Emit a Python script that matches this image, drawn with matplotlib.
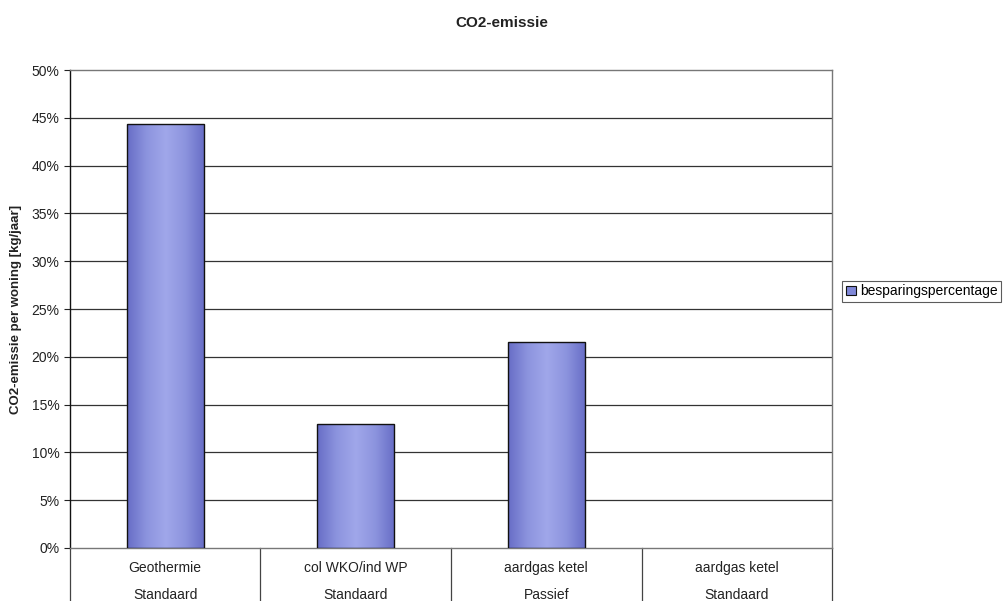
import numpy as np
import matplotlib
matplotlib.use("Agg")
import matplotlib.pyplot as plt
from matplotlib.colors import LinearSegmentedColormap
from matplotlib.ticker import FuncFormatter

# Data
systems = ["Geothermie", "col WKO/ind WP", "aardgas ketel", "aardgas ketel"]
variants = ["Standaard", "Standaard", "Passief", "Standaard"]
savings = [0.4435, 0.1297, 0.2155, 0.0]
series_name = "besparingspercentage"
y_ticks = [0.0, 0.05, 0.10, 0.15, 0.20, 0.25, 0.30, 0.35, 0.40, 0.45, 0.50]

plt.rcParams["font.family"] = ["Liberation Sans", "DejaVu Sans"]

fig = plt.figure(figsize=(10.04, 6.01), dpi=100)
ax = fig.add_axes([0.0697, 0.0882, 0.759, 0.7953])

x = np.arange(len(systems))
bar_w = 0.405
bars = ax.bar(x, savings, width=bar_w, color="none", linewidth=0, zorder=3)

# Shaded fill for each bar: darker at the sides, lighter in the middle
cmap = LinearSegmentedColormap.from_list(
    "barshade", ["#676dc6", "#8c94de", "#a0a7ea", "#8c94de", "#676dc6"])
grad = np.linspace(0, 1, 256).reshape(1, -1)
for b in bars:
    h = b.get_height()
    if h <= 0:
        continue
    x0 = b.get_x()
    im = ax.imshow(grad, cmap=cmap, aspect="auto", zorder=3.5,
                   extent=[x0, x0 + b.get_width(), 0, h], interpolation="bicubic")
    im.set_clip_path(b)
    ax.bar(b.get_x() + b.get_width() / 2, h, width=b.get_width(), fill=False,
           edgecolor="#111111", linewidth=1.0, zorder=4)

ax.set_xlim(-0.5, len(systems) - 0.5)
ax.set_ylim(0, 0.5)
ax.set_yticks(y_ticks)
ax.yaxis.set_major_formatter(FuncFormatter(lambda v, p: f"{v*100:.0f}%"))
ax.tick_params(axis="y", labelsize=10, length=4, width=0.8, color="#222222",
               labelcolor="#222222")
ax.set_xticks([])

# Horizontal gridlines
for t in y_ticks[1:-1]:
    ax.axhline(t, color="#333333", linewidth=0.9, zorder=1)

for side in ["top", "right", "bottom"]:
    ax.spines[side].set_color("#777777")
    ax.spines[side].set_linestyle((0, (1, 1)))
    ax.spines[side].set_linewidth(1.0)
ax.spines["left"].set_color("#111111")
ax.spines["left"].set_linewidth(1.0)

ax.set_ylabel("CO2-emissie per woning [kg/jaar]", fontsize=9.5, fontweight="bold",
              color="#222222", labelpad=7)

# Two-level category axis below the plot area
tr = ax.get_xaxis_transform()
for b in np.arange(len(systems) + 1) - 0.5:
    ax.plot([b, b], [0, -0.12], transform=tr, color="#444444", linewidth=0.9,
            clip_on=False)
for xi, s, v in zip(x, systems, variants):
    ax.text(xi, -0.042, s, transform=tr, ha="center", va="center", fontsize=10,
            color="#222222")
    ax.text(xi, -0.099, v, transform=tr, ha="center", va="center", fontsize=10,
            color="#222222")

fig.text(0.5, 0.962, "CO2-emissie", ha="center", va="center", fontsize=11,
         fontweight="bold", color="#222222")

leg = fig.legend(handles=[plt.Rectangle((0, 0), 1, 1, facecolor="#8088d8",
                                        edgecolor="#111111", linewidth=0.8)],
                 labels=[series_name], loc="center left",
                 bbox_to_anchor=(0.839, 0.515), fontsize=10, frameon=True,
                 fancybox=False, edgecolor="#333333", handlelength=0.7,
                 handleheight=0.7, handletextpad=0.3, borderpad=0.25,
                 borderaxespad=0)
leg.get_frame().set_linewidth(0.8)

fig.savefig("out.png", dpi=100, facecolor="white")
